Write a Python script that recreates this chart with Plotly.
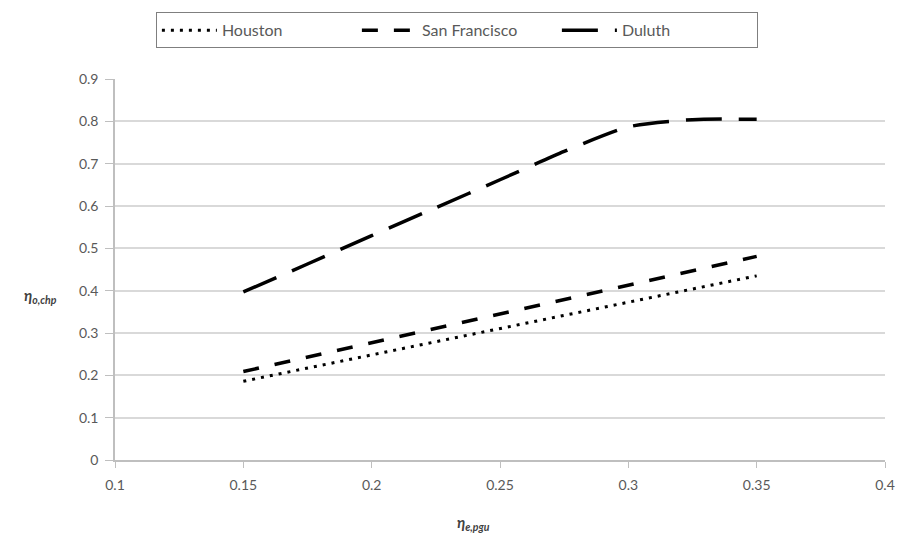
import plotly.graph_objects as go

# Data
x_vals = [0.15, 0.35]
houston = [0.186, 0.435]
san_francisco = [0.209, 0.481]

duluth_x = [0.15, 0.175, 0.2, 0.225, 0.25, 0.275, 0.3, 0.325, 0.35]
duluth = [0.397, 0.463, 0.530, 0.596, 0.662, 0.729, 0.787, 0.804, 0.805]

x_ticks = [0.1, 0.15, 0.2, 0.25, 0.3, 0.35, 0.4]
x_tick_labels = ["0.1", "0.15", "0.2", "0.25", "0.3", "0.35", "0.4"]
y_ticks = [0, 0.1, 0.2, 0.3, 0.4, 0.5, 0.6, 0.7, 0.8, 0.9]
y_tick_labels = ["0", "0.1", "0.2", "0.3", "0.4", "0.5", "0.6", "0.7", "0.8", "0.9"]

FONT = "Lato, 'Open Sans', sans-serif"

fig = go.Figure()
fig.add_trace(go.Scatter(
    x=x_vals, y=houston, mode="lines", name="Houston",
    line=dict(color="black", width=3, dash="3px,6px"),
))
fig.add_trace(go.Scatter(
    x=x_vals, y=san_francisco, mode="lines", name="San Francisco",
    line=dict(color="black", width=3.5, dash="16px,16px"),
))
fig.add_trace(go.Scatter(
    x=duluth_x, y=duluth, mode="lines", name="Duluth",
    line=dict(color="black", width=3.5, dash="36px,17px", shape="spline", smoothing=0.6),
))

fig.update_layout(
    width=907, height=540,
    margin=dict(l=115, r=18, t=77, b=80),
    paper_bgcolor="white", plot_bgcolor="white",
    font=dict(family=FONT, size=14, color="#595959"),
    showlegend=True,
    legend=dict(
        orientation="h",
        x=0.444, xanchor="center",
        y=1.175, yanchor="top",
        bordercolor="#7f7f7f", borderwidth=1,
        bgcolor="white",
        font=dict(family=FONT, size=16, color="#595959"),
        itemwidth=55,
        entrywidth=130,
        traceorder="normal",
    ),
    xaxis=dict(
        range=[0.1, 0.4],
        tickvals=x_ticks, ticktext=x_tick_labels,
        showgrid=False, zeroline=False,
        showline=True, linecolor="#bfbfbf", linewidth=1.5,
        ticks="outside", ticklen=6, tickcolor="#bfbfbf", tickwidth=1,
        ticklabelstandoff=5,
        tickfont=dict(family=FONT, size=14, color="#595959"),
    ),
    yaxis=dict(
        range=[0, 0.9],
        tickvals=y_ticks, ticktext=y_tick_labels,
        showgrid=True, gridcolor="#d9d9d9", gridwidth=1.5,
        zeroline=False,
        showline=True, linecolor="#bfbfbf", linewidth=1.5,
        ticks="outside", ticklen=8, tickcolor="#bfbfbf", tickwidth=1,
        ticklabelstandoff=4,
        tickfont=dict(family=FONT, size=14, color="#595959"),
    ),
    annotations=[
        dict(
            text="<b><i>η</i></b><sub><b><i>o,chp</i></b></sub>",
            xref="paper", yref="paper", x=-0.097, y=0.43,
            xanchor="center", yanchor="middle", showarrow=False,
            font=dict(family=FONT, size=15, color="#404040"),
        ),
        dict(
            text="<b><i>η</i></b><sub><b><i>e,pgu</i></b></sub>",
            xref="paper", yref="paper", x=0.465, y=-0.165,
            xanchor="center", yanchor="middle", showarrow=False,
            font=dict(family=FONT, size=15, color="#404040"),
        ),
    ],
)

fig.write_html("out.html")
